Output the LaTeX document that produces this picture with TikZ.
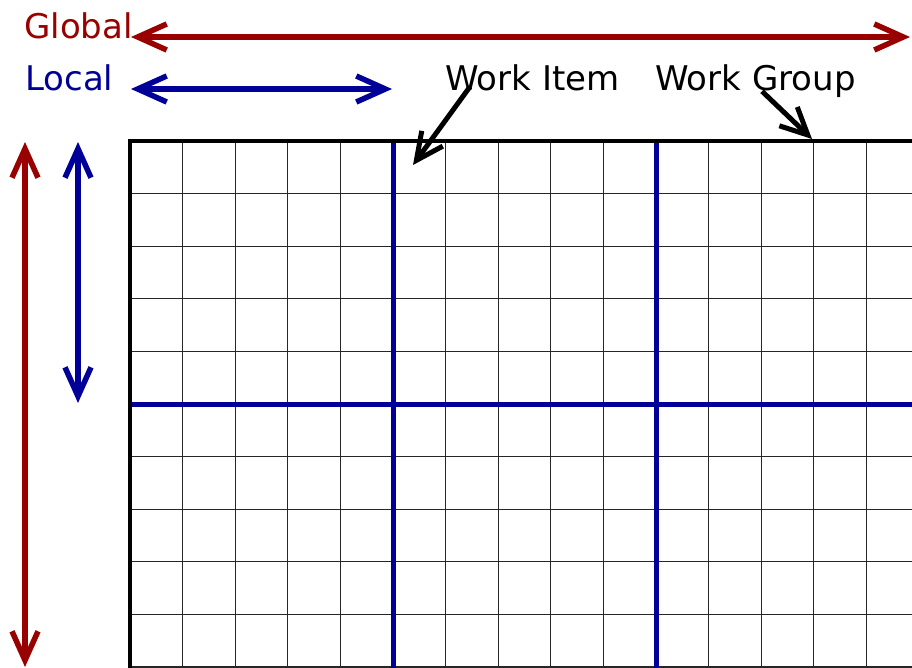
\documentclass[tikz,border=0pt]{standalone}
\usepackage{fontspec}
\setmainfont{DejaVu Sans}
\usetikzlibrary{arrows.meta}
\definecolor{globalred}{HTML}{990000}
\definecolor{localblue}{HTML}{000099}
\begin{document}
\begin{tikzpicture}[x=1pt,y=-1pt,
  lbl/.style={font=\fontsize{34}{34}\selectfont, anchor=base west, inner sep=0pt},
  span/.style={line width=5.5pt, {Straight Barb[length=29pt,width=26pt]}-{Straight Barb[length=29pt,width=26pt]}},
  pointer/.style={line width=5pt, -{Straight Barb[length=27pt,width=26pt]}},
  cell/.style={line width=1.2pt, black!85},
  groupline/.style={line width=5pt, localblue},
  border/.style={line width=3.5pt, line join=miter}
]
\useasboundingbox (0,0) rectangle (912,668);

% labels
\node[lbl, text=globalred] (global) at (24,38.5) {Global};
\node[lbl, text=localblue] (local) at (25,91) {Local};
\node[lbl] (item) at (445,91) {Work Item};
\node[lbl] (group) at (655,91) {Work Group};

% end points of the extent arrows and pointers
\coordinate (gx1) at (131,37);  \coordinate (gx2) at (910,37);
\coordinate (lx1) at (131,89);  \coordinate (lx2) at (392,89);
\coordinate (gy1) at (25,142);  \coordinate (gy2) at (25,667);
\coordinate (ly1) at (78,142);  \coordinate (ly2) at (78,403);
\coordinate (itemtip) at (413,165);
\coordinate (grouptip) at (812,139);

% grid of work items
\begin{scope}
  \clip (0,0) rectangle (912,668);
  \foreach \i in {1,...,15}
    \draw[cell] ({130+52.6*\i},141) -- ({130+52.6*\i},668);
  \foreach \j in {1,...,10}
    \draw[cell] (130,{141+52.6*\j}) -- (912,{141+52.6*\j});
  % work group boundaries
  \draw[groupline] (393,141) -- (393,668);
  \draw[groupline] (656,141) -- (656,668);
  \draw[groupline] (130,404) -- (912,404);
  % outer border
  \draw[border] (130,668) -- (130,141) -- (912,141);
\end{scope}

% extent arrows
\draw[span, globalred] (gx1) -- (gx2);
\draw[span, localblue] (lx1) -- (lx2);
\draw[span, globalred] (gy1) -- (gy2);
\draw[span, localblue] (ly1) -- (ly2);

% pointers
\draw[pointer] (item.south west) ++(25,-5) -- (itemtip);
\draw[pointer] (group.south west) ++(107,-7) -- (grouptip);
\end{tikzpicture}
\end{document}
